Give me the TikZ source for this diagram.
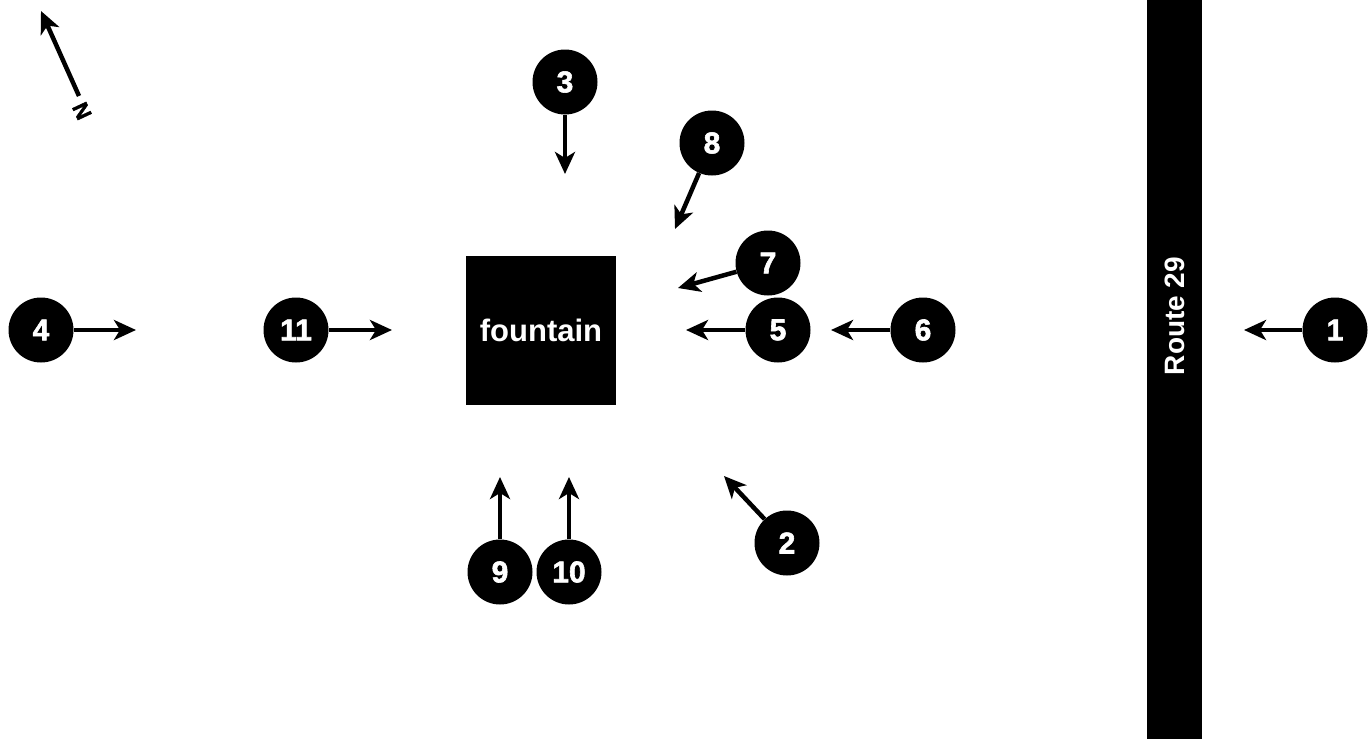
\documentclass[tikz,border=0pt]{standalone}
\usepackage{fontspec}
\setmainfont{Liberation Sans}
\newfontfamily\heavyfont{Liberation Sans}[FakeBold=2]
\usetikzlibrary{arrows.meta}

\tikzset{
  spot/.style={circle,fill=black,minimum size=65pt,inner sep=0pt,text=white,font=\fontsize{30}{30}\heavyfont\bfseries},
  view/.style={line width=4.5pt,-{Stealth[length=22pt,width=20pt,inset=6pt]}}
}

\begin{document}
\begin{tikzpicture}[x=1pt,y=1pt,yscale=-1,xscale=1]
\useasboundingbox (0,0) rectangle (1369,739);

%Shape: Rectangle [road]
\fill (1147,-2) rectangle (1202,741);
% Text Node
\node (route) [rotate=90,text=white,font=\fontsize{28}{28}\selectfont\bfseries] at (1175,316) {Route 29};

%Shape: Square [fountain]
\node (fountain) [fill=black,minimum width=150pt,minimum height=149pt,inner sep=0pt,text=white,font=\fontsize{31}{31}\selectfont\bfseries] at (541,330) {fountain};

%Spots
\node (s1) [spot] at (1335,330) {1};
\node (s2) [spot] at (787,543) {2};
\node (s3) [spot] at (565,82) {3};
\node (s4) [spot] at (41,330) {4};
\node (s5) [spot] at (778,330) {5};
\node (s6) [spot] at (923,330) {6};
\node (s7) [spot] at (768,263) {7};
\node (s8) [spot] at (712,143) {8};
\node (s9) [spot] at (500,572) {9};
\node (s10) [spot] at (569,572) {10};
\node (s11) [spot] at (296,330) {11};

%Arrow tips
\coordinate (t1) at (1244,330);
\coordinate (t2) at (724,476);
\coordinate (t3) at (565,174);
\coordinate (t4) at (136,330);
\coordinate (t5) at (686,330);
\coordinate (t6) at (831,330);
\coordinate (t7) at (678,288);
\coordinate (t8) at (675,229);
\coordinate (t9) at (500,477);
\coordinate (t10) at (569,477);
\coordinate (t11) at (392,330);

%Straight Lines
\foreach \k in {1,...,11}
  \draw [view] (s\k) -- (t\k);

%North arrow
\coordinate (nbase) at (79,96);
\coordinate (ntip) at (41,11);
\draw [view] (nbase) -- (ntip);
% Text Node
\node (north) [rotate=-65,font=\fontsize{22}{22}\heavyfont\bfseries] at (82,111) {N};
\end{tikzpicture}
\end{document}
